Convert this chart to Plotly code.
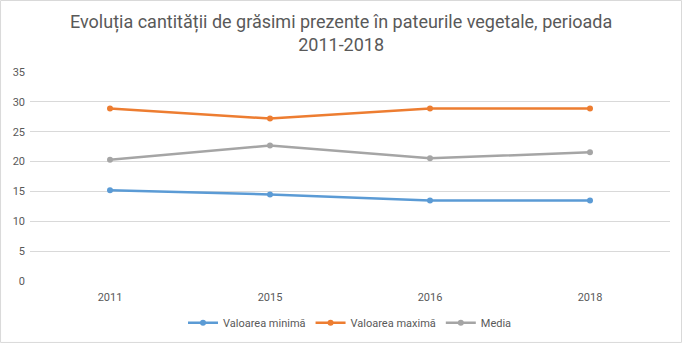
import plotly.graph_objects as go

years = ["2011", "2015", "2016", "2018"]
val_min = [15.2, 14.5, 13.5, 13.5]
val_max = [28.9, 27.2, 28.9, 28.9]
media = [20.3, 22.7, 20.55, 21.55]
y_ticks = [0, 5, 10, 15, 20, 25, 30, 35]
title_text = "Evoluția cantității de grăsimi prezente în pateurile vegetale, perioada<br>2011-2018"

FONT = "Liberation Sans Narrow, Roboto, Arial, sans-serif"

fig = go.Figure()
for name, vals, col in [
    ("Valoarea minimă", val_min, "#5B9BD5"),
    ("Valoarea maximă", val_max, "#ED7D31"),
    ("Media", media, "#A5A5A5"),
]:
    fig.add_trace(go.Scatter(
        x=years, y=vals, name=name, mode="lines+markers",
        line=dict(color=col, width=2.5),
        marker=dict(color=col, size=6),
    ))

fig.update_layout(
    width=682, height=343,
    margin=dict(l=30, r=12, t=72, b=62, autoexpand=False),
    paper_bgcolor="white", plot_bgcolor="white",
    font=dict(family=FONT, color="#595959", size=11),
    xaxis=dict(showgrid=False, showline=False, zeroline=False, ticks="",
               range=[-0.5, 3.5], ticklabelstandoff=8,
               tickfont=dict(size=11, color="#595959")),
    yaxis=dict(range=[0, 35], tickvals=y_ticks, showgrid=True, gridcolor="#D9D9D9",
               gridwidth=1, zeroline=False, showline=False, ticks="",
               ticklabelstandoff=4,
               tickfont=dict(size=11, color="#595959")),
    legend=dict(orientation="h", x=0.5, xanchor="center", y=-0.2, yanchor="middle",
                font=dict(size=11, color="#595959"), itemwidth=30),
    showlegend=True,
    annotations=[dict(text=title_text, xref="paper", yref="paper",
                      x=(341 - 30) / 640, y=(281 - 33) / 209,
                      xanchor="center", yanchor="middle", showarrow=False,
                      font=dict(family=FONT, size=18, color="#595959"))],
    shapes=[dict(type="rect", xref="paper", yref="paper",
                 x0=-0.046, x1=1.018, y0=-0.294, y1=1.342,
                 line=dict(color="#D9D9D9", width=1), layer="below")],
)

fig.write_html("out.html")
